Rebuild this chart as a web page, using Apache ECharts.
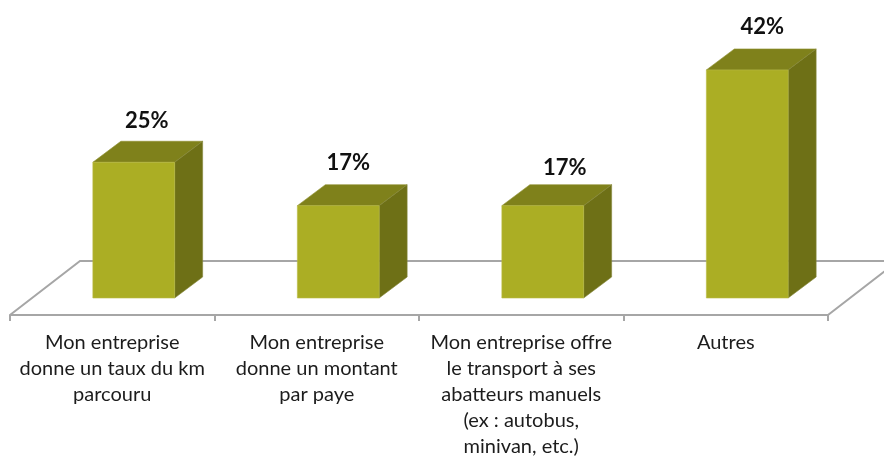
<!DOCTYPE html>
<html>
<head>
<meta charset="utf-8">
<style>html,body{margin:0;padding:0;background:#fff}#c{width:884px;height:456px}</style>
<script src="https://cdn.jsdelivr.net/npm/echarts@6/dist/echarts.min.js"></script>
</head>
<body>
<div id="c"></div>
<script>
const categories = [
  "Mon entreprise\ndonne un taux du km\nparcouru",
  "Mon entreprise\ndonne un montant\npar paye",
  "Mon entreprise offre\nle transport à ses\nabatteurs manuels\n(ex : autobus,\nminivan, etc.)",
  "Autres"
];
const percentages = [25, 17, 17, 42];

const FONT = "Lato, Carlito, 'Open Sans', sans-serif";
const AXIS_COLOR = "#a6a6a6";
const DX = 28, DY = -21, FLOOR_DX = 70, FLOOR_DY = -54, FLOOR_DROP = 17, SHIFT = 21.5;
const LABEL_NUDGE = [[-1, -20], [-4, -22], [8, -17], [1, -22]];

const chart = echarts.init(document.getElementById("c"), null, {renderer: "canvas"});

function renderFloor(params, api) {
  const cs = params.coordSys;
  const y0 = api.coord([0, 0])[1] + FLOOR_DROP;
  const l = cs.x, r = cs.x + cs.width;
  const style = {stroke: AXIS_COLOR, lineWidth: 2, fill: null};
  return {
    type: "group",
    children: [
      {type: "polyline", shape: {points: [[l, y0], [l + FLOOR_DX, y0 + FLOOR_DY], [r + FLOOR_DX, y0 + FLOOR_DY], [r, y0]]}, style}
    ]
  };
}

function renderBar(params, api) {
  const idx = api.value(0), val = api.value(1);
  const top = api.coord([idx, val]);
  const base = api.coord([idx, 0]);
  const w = api.size([1, 0])[0] * 0.4;
  const x0 = top[0] + SHIFT - w / 2, x1 = x0 + w;
  const y0 = top[1], y1 = base[1];
  const nudge = LABEL_NUDGE[idx];
  return {
    type: "group",
    children: [
      {type: "polygon", shape: {points: [[x0, y0], [x1, y0], [x1 + DX, y0 + DY], [x0 + DX, y0 + DY]]},
        style: {fill: "#7f811b", stroke: "#8f9130", lineWidth: 0.6}},
      {type: "polygon", shape: {points: [[x1, y0], [x1 + DX, y0 + DY], [x1 + DX, y1 + DY], [x1, y1]]},
        style: {fill: "#6e7016", stroke: "#85873a", lineWidth: 0.6}},
      {type: "rect", shape: {x: x0, y: y0, width: w, height: y1 - y0},
        style: {fill: "#abae24", stroke: "#b9bb45", lineWidth: 0.6}},
      {type: "text", style: {text: val + "%", x: x0 + (w + DX) / 2 + nudge[0], y: y0 + DY + nudge[1],
        textAlign: "center", textVerticalAlign: "middle",
        font: "bold 22px " + FONT, fill: "#111"}}
    ]
  };
}

chart.setOption({
  animation: false,
  backgroundColor: "#fff",
  grid: {left: 10, width: 818, top: 26.5, height: 271.5, containLabel: false, outerBoundsMode: "none"},
  xAxis: {
    type: "category",
    data: categories,
    offset: FLOOR_DROP,
    axisLine: {show: true, onZero: false, lineStyle: {color: AXIS_COLOR, width: 2}},
    axisTick: {show: true, length: 6, lineStyle: {color: AXIS_COLOR, width: 2}},
    axisLabel: {interval: 0, margin: 15, fontFamily: FONT, fontSize: 20, lineHeight: 26, color: "#1c1c1c"}
  },
  yAxis: {type: "value", min: 0, max: 50, show: false, splitLine: {show: false}},
  series: [
    {type: "custom", z: 1, clip: false, silent: true, renderItem: renderFloor, data: [[0, 0]], encode: {x: 0, y: 1}},
    {type: "custom", z: 2, clip: false, silent: true, renderItem: renderBar,
      data: percentages.map((v, i) => [i, v]), encode: {x: 0, y: 1}}
  ]
});
</script>
</body>
</html>
